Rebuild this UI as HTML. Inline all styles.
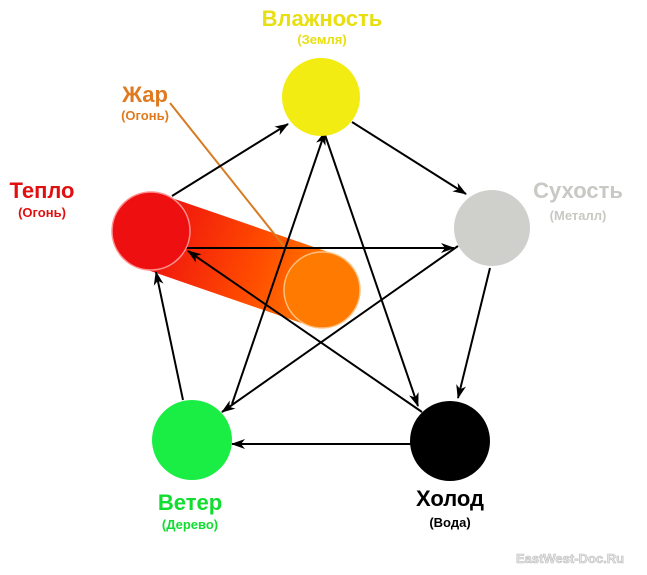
<!DOCTYPE html>
<html><head><meta charset="utf-8"><style>
body{margin:0;background:#fff}
svg{display:block}
text{font-family:"Liberation Sans",sans-serif;font-weight:bold;text-anchor:middle}
</style></head><body>
<svg width="647" height="575" viewBox="0 0 647 575">
<defs>
<linearGradient id="g" x1="151" y1="231" x2="322" y2="290" gradientUnits="userSpaceOnUse">
<stop offset="0" stop-color="#ee1010"/><stop offset="0.6" stop-color="#ff4a00"/><stop offset="1" stop-color="#ff7a00"/></linearGradient>
<marker id="a" markerWidth="14" markerHeight="10" refX="13" refY="5" orient="auto" markerUnits="userSpaceOnUse">
<path d="M0,0 L14,5 L0,10 L4,5 z" fill="#000"/></marker>
</defs>
<line x1="151" y1="231" x2="322" y2="290" stroke="url(#g)" stroke-width="76"/>
<line x1="170" y1="103" x2="287" y2="250" stroke="#d87a20" stroke-width="2"/>
<g stroke="#000" stroke-width="2" marker-end="url(#a)">
<line x1="172" y1="196" x2="288" y2="124"/>
<line x1="352" y1="122" x2="466" y2="194"/>
<line x1="490" y1="268" x2="458" y2="398"/>
<line x1="412" y1="444" x2="232" y2="444"/>
<line x1="183" y1="400" x2="156" y2="272"/>
<line x1="324" y1="132" x2="418" y2="406"/>
<line x1="232" y1="404" x2="325" y2="132"/>
<line x1="186" y1="248" x2="454" y2="248"/>
<line x1="458" y1="246" x2="222" y2="412"/>
<line x1="422" y1="412" x2="188" y2="251"/>
</g>
<circle cx="321" cy="97" r="39" fill="#f2ec12"/>
<circle cx="492" cy="228" r="38" fill="#cfcfcb"/>
<circle cx="450" cy="441" r="40" fill="#000"/>
<circle cx="192" cy="440" r="40" fill="#1aee44"/>
<circle cx="151" cy="231" r="39" fill="#ee1010" stroke="#ff9090" stroke-width="1.5"/>
<circle cx="322" cy="290" r="38" fill="#ff7a00" stroke="#ffc080" stroke-width="1.5"/>
<text x="322" y="26" font-size="22" fill="#e8df10">Влажность</text>
<text x="322" y="44" font-size="13" fill="#e8df10">(Земля)</text>
<text x="145" y="102" font-size="22" fill="#e07a20">Жар</text>
<text x="145" y="120" font-size="13" fill="#e07a20">(Огонь)</text>
<text x="42" y="198" font-size="22" fill="#e01010">Тепло</text>
<text x="42" y="217" font-size="13" fill="#e01010">(Огонь)</text>
<text x="578" y="198" font-size="22" fill="#c8c8c4">Сухость</text>
<text x="578" y="220" font-size="13" fill="#c8c8c4">(Металл)</text>
<text x="190" y="510" font-size="22" fill="#10dd30">Ветер</text>
<text x="190" y="529" font-size="13" fill="#10dd30">(Дерево)</text>
<text x="450" y="506" font-size="22" fill="#000">Холод</text>
<text x="450" y="527" font-size="13" fill="#000">(Вода)</text>
<text x="570" y="563" font-size="13" fill="#e8e8e8" stroke="#bbb" stroke-width="0.6">EastWest-Doc.Ru</text>
</svg>
</body></html>
